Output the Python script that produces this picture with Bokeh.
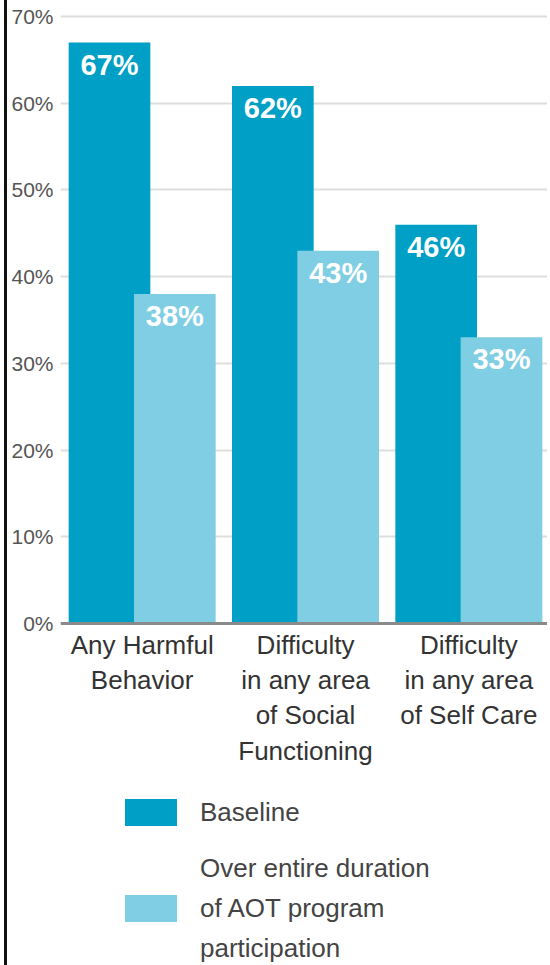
from bokeh.plotting import figure
from bokeh.models import ColumnDataSource, FactorRange, Range1d, FixedTicker, Legend, LegendItem
from bokeh.transform import dodge
from bokeh.core.properties import value
from bokeh.embed import file_html
from bokeh.resources import INLINE

# ---- data ----
categories = [
    "Any Harmful\nBehavior",
    "Difficulty\nin any area\nof Social\nFunctioning",
    "Difficulty\nin any area\nof Self Care",
]
baseline = [67, 62, 46]
aot = [38, 43, 33]
y_ticks = [0, 10, 20, 30, 40, 50, 60, 70]
y_tick_labels = ["0%", "10%", "20%", "30%", "40%", "50%", "60%", "70%"]
series_names = ["Baseline", ["Over entire duration", "of AOT program", "participation"]]

DARK = "#00a0c6"
LIGHT = "#80cee3"
FONT = "Liberation Sans"

src = ColumnDataSource(dict(
    cat=categories,
    baseline=baseline,
    aot=aot,
    baseline_txt=[f"{v}%" for v in baseline],
    aot_txt=[f"{v}%" for v in aot],
))

p = figure(
    x_range=FactorRange(*categories, range_padding=0),
    y_range=Range1d(-39.44, 71.85),
    width=543, height=965,
    output_backend="svg", toolbar_location=None,
    min_border_left=53, min_border_right=0, min_border_top=0, min_border_bottom=0,
)
p.styles = {"margin-left": "4px", "border-left": "3px solid #111"}
p.outline_line_color = None
p.background_fill_color = "white"
p.border_fill_color = "white"

p.xgrid.grid_line_color = None
p.ygrid.grid_line_color = "#dedede"
p.ygrid.grid_line_width = 2
p.ygrid.ticker = FixedTicker(ticks=y_ticks)

ya = p.yaxis[0]
ya.ticker = FixedTicker(ticks=y_ticks)
ya.major_label_overrides = {t: l for t, l in zip(y_ticks, y_tick_labels)}
ya.axis_line_color = None
ya.major_tick_line_color = None
ya.minor_tick_line_color = None
ya.major_tick_in = 0
ya.major_tick_out = 0
ya.minor_tick_in = 0
ya.minor_tick_out = 0
ya.major_label_standoff = 7
ya.major_label_text_font = FONT
ya.major_label_text_font_size = "21px"
ya.major_label_text_color = "#555555"

xa = p.xaxis[0]
xa.fixed_location = 0
xa.axis_line_color = "#8a8a8a"
xa.axis_line_width = 3
xa.major_tick_line_color = None
xa.minor_tick_line_color = None
xa.major_tick_in = 0
xa.major_tick_out = 0
xa.major_label_standoff = 6
xa.major_label_text_font = FONT
xa.major_label_text_font_size = "26px"
xa.major_label_text_color = "#333333"
xa.major_label_text_line_height = 1.18

r1 = p.vbar(x=dodge("cat", -0.2, range=p.x_range), top="baseline", width=0.5,
            source=src, fill_color=DARK, line_color=None)
r2 = p.vbar(x=dodge("cat", 0.2, range=p.x_range), top="aot", width=0.5,
            source=src, fill_color=LIGHT, line_color=None)

for col, txt, off in [("baseline", "baseline_txt", -0.2), ("aot", "aot_txt", 0.2)]:
    p.text(x=dodge("cat", off, range=p.x_range), y=col, text=txt, source=src,
           text_align="center", text_baseline="top", y_offset=6,
           text_color="white", text_font=value(FONT), text_font_style="bold",
           text_font_size="29px")

legend_style = dict(
    glyph_width=65, glyph_height=34, label_standoff=17,
    padding=0, margin=0, border_line_color=None, background_fill_alpha=0,
    label_text_font=FONT, label_text_font_size="26px", label_text_color="#444444",
)
legend1 = Legend(
    items=[LegendItem(label=series_names[0], renderers=[r1])],
    location=(58, 136), spacing=0, **legend_style,
)
l2 = series_names[1]
legend2 = Legend(
    items=[LegendItem(label=l2[0], renderers=[]),
           LegendItem(label=l2[1], renderers=[r2]),
           LegendItem(label=l2[2], renderers=[])],
    location=(58, 0), spacing=6, **legend_style,
)
p.add_layout(legend1)
p.add_layout(legend2)

open("out.html", "w").write(file_html(p, INLINE))
